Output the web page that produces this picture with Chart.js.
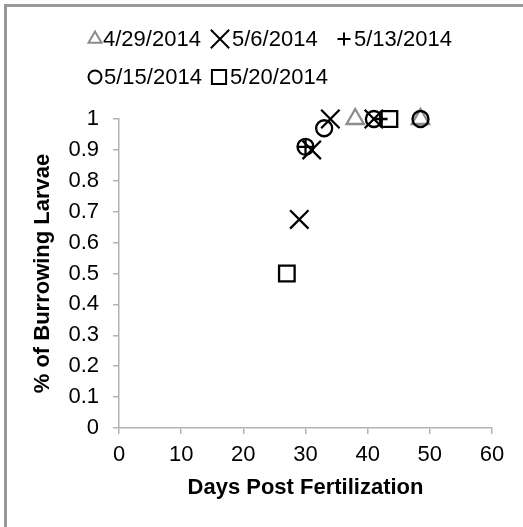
<!DOCTYPE html>
<html><head><meta charset="utf-8">
<script src="https://cdn.jsdelivr.net/npm/chart.js@4/dist/chart.umd.min.js"></script>
<style>html,body{margin:0;padding:0;background:#fff}#wrap{width:523px;height:527px;position:relative}canvas{display:block}</style>
</head><body><div id="wrap"><canvas id="c" width="523" height="527"></canvas></div>
<script>
// ---- data ----
const seriesNames = ['4/29/2014', '5/6/2014', '5/13/2014', '5/15/2014', '5/20/2014'];
const days0429 = [38, 48.5];
const vals0429 = [1, 1];
const days0506 = [29, 31, 34, 41];
const vals0506 = [0.675, 0.9, 1, 1];
const days0513 = [30, 42];
const vals0513 = [0.91, 1];
const days0515 = [30, 33, 41, 48.5];
const vals0515 = [0.91, 0.97, 1, 1];
const days0520 = [27, 43.5];
const vals0520 = [0.5, 1];
const xTickValues = [0, 10, 20, 30, 40, 50, 60];
const yTickValues = [0, 0.1, 0.2, 0.3, 0.4, 0.5, 0.6, 0.7, 0.8, 0.9, 1];
const yTickLabels = ['0', '0.1', '0.2', '0.3', '0.4', '0.5', '0.6', '0.7', '0.8', '0.9', '1'];
const xTitle = 'Days Post Fertilization';
const yTitle = '% of Burrowing Larvae';

const toPts = (xs, ys) => xs.map((x, i) => ({x: x, y: ys[i]}));
const FONT = "'Liberation Sans', Arial, sans-serif";

const styles = [
  {pointStyle: 'triangle', radius: 10, color: '#8c8c8c', legendRadius: 7.5, order: 5},
  {pointStyle: 'crossRot', radius: 13, color: '#000', legendRadius: 13, order: 4},
  {pointStyle: 'cross', radius: 7.5, color: '#000', legendRadius: 6.5, order: 3},
  {pointStyle: 'circle', radius: 8, color: '#000', legendRadius: 6.5, order: 2},
  {pointStyle: 'rect', radius: 11, color: '#000', legendRadius: 10, order: 1}
];
const seriesData = [toPts(days0429, vals0429), toPts(days0506, vals0506), toPts(days0513, vals0513), toPts(days0515, vals0515), toPts(days0520, vals0520)];

const datasets = seriesNames.map((n, i) => ({
  label: n,
  data: seriesData[i],
  pointStyle: styles[i].pointStyle,
  pointRadius: styles[i].radius,
  pointHoverRadius: styles[i].radius,
  pointBorderWidth: 2.3,
  pointBorderColor: styles[i].color,
  pointBackgroundColor: 'rgba(0,0,0,0)',
  showLine: false,
  clip: false,
  order: styles[i].order
}));

const legendLayout = [
  {x: 95, y: 39, tx: 103}, {x: 220, y: 39, tx: 232}, {x: 344, y: 39, tx: 354},
  {x: 95, y: 77, tx: 104}, {x: 219, y: 77, tx: 230}
];

const framePlugin = {
  id: 'frame',
  beforeDraw(chart) {
    const ctx = chart.ctx;
    ctx.save();
    ctx.fillStyle = '#fff';
    ctx.fillRect(0, 0, chart.width, chart.height);
    ctx.strokeStyle = '#999';
    ctx.lineWidth = 3;
    ctx.beginPath();
    ctx.moveTo(5.5, chart.height);
    ctx.lineTo(5.5, 5.5);
    ctx.lineTo(chart.width, 5.5);
    ctx.stroke();
    ctx.restore();
  },
  afterDraw(chart) {
    const ctx = chart.ctx;
    ctx.save();
    ctx.font = '22px ' + FONT;
    ctx.textBaseline = 'middle';
    ctx.textAlign = 'left';
    chart.data.datasets.forEach((ds, i) => {
      const L = legendLayout[i];
      ctx.strokeStyle = styles[i].color;
      ctx.fillStyle = 'rgba(0,0,0,0)';
      ctx.lineWidth = 2;
      Chart.helpers.drawPoint(ctx, {pointStyle: styles[i].pointStyle, radius: styles[i].legendRadius, rotation: 0, borderWidth: 2}, L.x, L.y);
      ctx.fillStyle = '#000';
      ctx.fillText(ds.label, L.tx, L.y + 1);
    });
    ctx.restore();
  }
};

new Chart(document.getElementById('c'), {
  type: 'scatter',
  data: {datasets: datasets},
  plugins: [framePlugin],
  options: {
    responsive: false,
    animation: false,
    events: [],
    layout: {padding: {left: 0, top: 119, right: 31, bottom: 0}},
    plugins: {legend: {display: false}, tooltip: {enabled: false}},
    scales: {
      x: {
        type: 'linear', min: 0, max: 60,
        afterBuildTicks: s => { s.ticks = xTickValues.map(v => ({value: v})); },
        afterFit: s => { s.height = 99; },
        ticks: {font: {family: FONT, size: 22}, color: '#000', padding: 8, maxRotation: 0},
        grid: {drawOnChartArea: false, tickLength: 6, color: '#b3b3b3', lineWidth: 1.5},
        border: {color: '#b3b3b3', width: 1.5},
        title: {display: true, text: xTitle, font: {family: FONT, size: 22, weight: 'bold'}, color: '#000', padding: {top: 0, bottom: 26}}
      },
      y: {
        type: 'linear', min: 0, max: 1,
        afterBuildTicks: s => { s.ticks = yTickValues.map(v => ({value: v})); },
        afterFit: s => { s.width = 119; },
        ticks: {font: {family: FONT, size: 22}, color: '#000', padding: 14, callback: (v, i) => yTickLabels[i]},
        grid: {drawOnChartArea: false, tickLength: 6, color: '#b3b3b3', lineWidth: 1.5},
        border: {color: '#b3b3b3', width: 1.5},
        title: {display: true, text: yTitle, font: {family: FONT, size: 22, weight: 'bold'}, color: '#000', padding: {top: 30, bottom: 0}}
      }
    }
  }
});
</script>
</body></html>
